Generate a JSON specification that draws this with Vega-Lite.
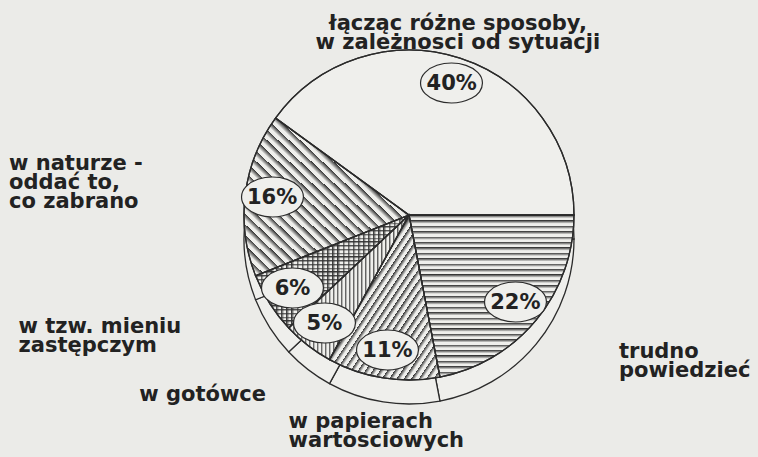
{
  "$schema": "https://vega.github.io/schema/vega-lite/v6.json",
  "autosize": {"type": "none"},
  "width": 698,
  "height": 430,
  "padding": {"left": 60, "top": 0, "right": 0, "bottom": 27},
  "background": "#ebebe8",
  "view": {"stroke": null},
  "data": {"values": [
    {"idx": 1, "value": 22, "pct": "22%", "label": "trudno\npowiedzieć"},
    {"idx": 2, "value": 11, "pct": "11%", "label": "w papierach\nwartosciowych"},
    {"idx": 3, "value": 5, "pct": "5%", "label": "w gotówce"},
    {"idx": 4, "value": 6, "pct": "6%", "label": "w tzw. mieniu\nzastępczym"},
    {"idx": 5, "value": 16, "pct": "16%", "label": "w naturze -\noddać to,\nco zabrano"},
    {"idx": 6, "value": 40, "pct": "40%", "label": "łącząc różne sposoby,\nw zależnosci od sytuacji"}
  ]},
  "encoding": {
    "theta": {"field": "value", "type": "quantitative", "stack": true, "scale": {"range": [1.5708, 7.854]}},
    "order": {"field": "idx", "type": "quantitative"}
  },
  "layer": [
    {"mark": {"type": "arc", "outerRadius": 165, "yOffset": 24, "fill": "#efefec", "stroke": "#2b2b2b", "strokeWidth": 1.3}},
    {"mark": {"type": "arc", "outerRadius": 165, "fill": "#efefec", "stroke": "#2b2b2b", "strokeWidth": 1.3}},
    {"mark": {"type": "arc", "outerRadius": 165, "fill": {"gradient": "linear", "x1": 0, "y1": 0, "x2": 0, "y2": 1, "stops": [{"offset":0,"color":"#333"},{"offset":0.02,"color":"rgba(51,51,51,0)"},{"offset":0.0333,"color":"rgba(51,51,51,0)"},{"offset":0.0333,"color":"#333"},{"offset":0.0533,"color":"rgba(51,51,51,0)"},{"offset":0.0667,"color":"rgba(51,51,51,0)"},{"offset":0.0667,"color":"#333"},{"offset":0.0867,"color":"rgba(51,51,51,0)"},{"offset":0.1,"color":"rgba(51,51,51,0)"},{"offset":0.1,"color":"#333"},{"offset":0.12,"color":"rgba(51,51,51,0)"},{"offset":0.1333,"color":"rgba(51,51,51,0)"},{"offset":0.1333,"color":"#333"},{"offset":0.1533,"color":"rgba(51,51,51,0)"},{"offset":0.1667,"color":"rgba(51,51,51,0)"},{"offset":0.1667,"color":"#333"},{"offset":0.1867,"color":"rgba(51,51,51,0)"},{"offset":0.2,"color":"rgba(51,51,51,0)"},{"offset":0.2,"color":"#333"},{"offset":0.22,"color":"rgba(51,51,51,0)"},{"offset":0.2333,"color":"rgba(51,51,51,0)"},{"offset":0.2333,"color":"#333"},{"offset":0.2533,"color":"rgba(51,51,51,0)"},{"offset":0.2667,"color":"rgba(51,51,51,0)"},{"offset":0.2667,"color":"#333"},{"offset":0.2867,"color":"rgba(51,51,51,0)"},{"offset":0.3,"color":"rgba(51,51,51,0)"},{"offset":0.3,"color":"#333"},{"offset":0.32,"color":"rgba(51,51,51,0)"},{"offset":0.3333,"color":"rgba(51,51,51,0)"},{"offset":0.3333,"color":"#333"},{"offset":0.3533,"color":"rgba(51,51,51,0)"},{"offset":0.3667,"color":"rgba(51,51,51,0)"},{"offset":0.3667,"color":"#333"},{"offset":0.3867,"color":"rgba(51,51,51,0)"},{"offset":0.4,"color":"rgba(51,51,51,0)"},{"offset":0.4,"color":"#333"},{"offset":0.42,"color":"rgba(51,51,51,0)"},{"offset":0.4333,"color":"rgba(51,51,51,0)"},{"offset":0.4333,"color":"#333"},{"offset":0.4533,"color":"rgba(51,51,51,0)"},{"offset":0.4667,"color":"rgba(51,51,51,0)"},{"offset":0.4667,"color":"#333"},{"offset":0.4867,"color":"rgba(51,51,51,0)"},{"offset":0.5,"color":"rgba(51,51,51,0)"},{"offset":0.5,"color":"#333"},{"offset":0.52,"color":"rgba(51,51,51,0)"},{"offset":0.5333,"color":"rgba(51,51,51,0)"},{"offset":0.5333,"color":"#333"},{"offset":0.5533,"color":"rgba(51,51,51,0)"},{"offset":0.5667,"color":"rgba(51,51,51,0)"},{"offset":0.5667,"color":"#333"},{"offset":0.5867,"color":"rgba(51,51,51,0)"},{"offset":0.6,"color":"rgba(51,51,51,0)"},{"offset":0.6,"color":"#333"},{"offset":0.62,"color":"rgba(51,51,51,0)"},{"offset":0.6333,"color":"rgba(51,51,51,0)"},{"offset":0.6333,"color":"#333"},{"offset":0.6533,"color":"rgba(51,51,51,0)"},{"offset":0.6667,"color":"rgba(51,51,51,0)"},{"offset":0.6667,"color":"#333"},{"offset":0.6867,"color":"rgba(51,51,51,0)"},{"offset":0.7,"color":"rgba(51,51,51,0)"},{"offset":0.7,"color":"#333"},{"offset":0.72,"color":"rgba(51,51,51,0)"},{"offset":0.7333,"color":"rgba(51,51,51,0)"},{"offset":0.7333,"color":"#333"},{"offset":0.7533,"color":"rgba(51,51,51,0)"},{"offset":0.7667,"color":"rgba(51,51,51,0)"},{"offset":0.7667,"color":"#333"},{"offset":0.7867,"color":"rgba(51,51,51,0)"},{"offset":0.8,"color":"rgba(51,51,51,0)"},{"offset":0.8,"color":"#333"},{"offset":0.82,"color":"rgba(51,51,51,0)"},{"offset":0.8333,"color":"rgba(51,51,51,0)"},{"offset":0.8333,"color":"#333"},{"offset":0.8533,"color":"rgba(51,51,51,0)"},{"offset":0.8667,"color":"rgba(51,51,51,0)"},{"offset":0.8667,"color":"#333"},{"offset":0.8867,"color":"rgba(51,51,51,0)"},{"offset":0.9,"color":"rgba(51,51,51,0)"},{"offset":0.9,"color":"#333"},{"offset":0.92,"color":"rgba(51,51,51,0)"},{"offset":0.9333,"color":"rgba(51,51,51,0)"},{"offset":0.9333,"color":"#333"},{"offset":0.9533,"color":"rgba(51,51,51,0)"},{"offset":0.9667,"color":"rgba(51,51,51,0)"},{"offset":0.9667,"color":"#333"},{"offset":0.9867,"color":"rgba(51,51,51,0)"},{"offset":1,"color":"rgba(51,51,51,0)"}]}},
     "encoding": {"opacity": {"condition": {"test": "datum.idx == 1 || datum.idx == 4", "value": 1}, "value": 0}}},
    {"mark": {"type": "arc", "outerRadius": 165, "fill": {"gradient": "linear", "x1": 0, "y1": 0, "x2": 1, "y2": 0, "stops": [{"offset":0,"color":"#333"},{"offset":0.02,"color":"rgba(51,51,51,0)"},{"offset":0.0333,"color":"rgba(51,51,51,0)"},{"offset":0.0333,"color":"#333"},{"offset":0.0533,"color":"rgba(51,51,51,0)"},{"offset":0.0667,"color":"rgba(51,51,51,0)"},{"offset":0.0667,"color":"#333"},{"offset":0.0867,"color":"rgba(51,51,51,0)"},{"offset":0.1,"color":"rgba(51,51,51,0)"},{"offset":0.1,"color":"#333"},{"offset":0.12,"color":"rgba(51,51,51,0)"},{"offset":0.1333,"color":"rgba(51,51,51,0)"},{"offset":0.1333,"color":"#333"},{"offset":0.1533,"color":"rgba(51,51,51,0)"},{"offset":0.1667,"color":"rgba(51,51,51,0)"},{"offset":0.1667,"color":"#333"},{"offset":0.1867,"color":"rgba(51,51,51,0)"},{"offset":0.2,"color":"rgba(51,51,51,0)"},{"offset":0.2,"color":"#333"},{"offset":0.22,"color":"rgba(51,51,51,0)"},{"offset":0.2333,"color":"rgba(51,51,51,0)"},{"offset":0.2333,"color":"#333"},{"offset":0.2533,"color":"rgba(51,51,51,0)"},{"offset":0.2667,"color":"rgba(51,51,51,0)"},{"offset":0.2667,"color":"#333"},{"offset":0.2867,"color":"rgba(51,51,51,0)"},{"offset":0.3,"color":"rgba(51,51,51,0)"},{"offset":0.3,"color":"#333"},{"offset":0.32,"color":"rgba(51,51,51,0)"},{"offset":0.3333,"color":"rgba(51,51,51,0)"},{"offset":0.3333,"color":"#333"},{"offset":0.3533,"color":"rgba(51,51,51,0)"},{"offset":0.3667,"color":"rgba(51,51,51,0)"},{"offset":0.3667,"color":"#333"},{"offset":0.3867,"color":"rgba(51,51,51,0)"},{"offset":0.4,"color":"rgba(51,51,51,0)"},{"offset":0.4,"color":"#333"},{"offset":0.42,"color":"rgba(51,51,51,0)"},{"offset":0.4333,"color":"rgba(51,51,51,0)"},{"offset":0.4333,"color":"#333"},{"offset":0.4533,"color":"rgba(51,51,51,0)"},{"offset":0.4667,"color":"rgba(51,51,51,0)"},{"offset":0.4667,"color":"#333"},{"offset":0.4867,"color":"rgba(51,51,51,0)"},{"offset":0.5,"color":"rgba(51,51,51,0)"},{"offset":0.5,"color":"#333"},{"offset":0.52,"color":"rgba(51,51,51,0)"},{"offset":0.5333,"color":"rgba(51,51,51,0)"},{"offset":0.5333,"color":"#333"},{"offset":0.5533,"color":"rgba(51,51,51,0)"},{"offset":0.5667,"color":"rgba(51,51,51,0)"},{"offset":0.5667,"color":"#333"},{"offset":0.5867,"color":"rgba(51,51,51,0)"},{"offset":0.6,"color":"rgba(51,51,51,0)"},{"offset":0.6,"color":"#333"},{"offset":0.62,"color":"rgba(51,51,51,0)"},{"offset":0.6333,"color":"rgba(51,51,51,0)"},{"offset":0.6333,"color":"#333"},{"offset":0.6533,"color":"rgba(51,51,51,0)"},{"offset":0.6667,"color":"rgba(51,51,51,0)"},{"offset":0.6667,"color":"#333"},{"offset":0.6867,"color":"rgba(51,51,51,0)"},{"offset":0.7,"color":"rgba(51,51,51,0)"},{"offset":0.7,"color":"#333"},{"offset":0.72,"color":"rgba(51,51,51,0)"},{"offset":0.7333,"color":"rgba(51,51,51,0)"},{"offset":0.7333,"color":"#333"},{"offset":0.7533,"color":"rgba(51,51,51,0)"},{"offset":0.7667,"color":"rgba(51,51,51,0)"},{"offset":0.7667,"color":"#333"},{"offset":0.7867,"color":"rgba(51,51,51,0)"},{"offset":0.8,"color":"rgba(51,51,51,0)"},{"offset":0.8,"color":"#333"},{"offset":0.82,"color":"rgba(51,51,51,0)"},{"offset":0.8333,"color":"rgba(51,51,51,0)"},{"offset":0.8333,"color":"#333"},{"offset":0.8533,"color":"rgba(51,51,51,0)"},{"offset":0.8667,"color":"rgba(51,51,51,0)"},{"offset":0.8667,"color":"#333"},{"offset":0.8867,"color":"rgba(51,51,51,0)"},{"offset":0.9,"color":"rgba(51,51,51,0)"},{"offset":0.9,"color":"#333"},{"offset":0.92,"color":"rgba(51,51,51,0)"},{"offset":0.9333,"color":"rgba(51,51,51,0)"},{"offset":0.9333,"color":"#333"},{"offset":0.9533,"color":"rgba(51,51,51,0)"},{"offset":0.9667,"color":"rgba(51,51,51,0)"},{"offset":0.9667,"color":"#333"},{"offset":0.9867,"color":"rgba(51,51,51,0)"},{"offset":1,"color":"rgba(51,51,51,0)"}]}},
     "encoding": {"opacity": {"condition": {"test": "datum.idx == 3 || datum.idx == 4", "value": 1}, "value": 0}}},
    {"mark": {"type": "arc", "outerRadius": 165, "fill": {"gradient": "linear", "x1": 0, "y1": 0, "x2": 1, "y2": 1, "stops": [{"offset":0,"color":"#333"},{"offset":0.02,"color":"rgba(51,51,51,0)"},{"offset":0.0333,"color":"rgba(51,51,51,0)"},{"offset":0.0333,"color":"#333"},{"offset":0.0533,"color":"rgba(51,51,51,0)"},{"offset":0.0667,"color":"rgba(51,51,51,0)"},{"offset":0.0667,"color":"#333"},{"offset":0.0867,"color":"rgba(51,51,51,0)"},{"offset":0.1,"color":"rgba(51,51,51,0)"},{"offset":0.1,"color":"#333"},{"offset":0.12,"color":"rgba(51,51,51,0)"},{"offset":0.1333,"color":"rgba(51,51,51,0)"},{"offset":0.1333,"color":"#333"},{"offset":0.1533,"color":"rgba(51,51,51,0)"},{"offset":0.1667,"color":"rgba(51,51,51,0)"},{"offset":0.1667,"color":"#333"},{"offset":0.1867,"color":"rgba(51,51,51,0)"},{"offset":0.2,"color":"rgba(51,51,51,0)"},{"offset":0.2,"color":"#333"},{"offset":0.22,"color":"rgba(51,51,51,0)"},{"offset":0.2333,"color":"rgba(51,51,51,0)"},{"offset":0.2333,"color":"#333"},{"offset":0.2533,"color":"rgba(51,51,51,0)"},{"offset":0.2667,"color":"rgba(51,51,51,0)"},{"offset":0.2667,"color":"#333"},{"offset":0.2867,"color":"rgba(51,51,51,0)"},{"offset":0.3,"color":"rgba(51,51,51,0)"},{"offset":0.3,"color":"#333"},{"offset":0.32,"color":"rgba(51,51,51,0)"},{"offset":0.3333,"color":"rgba(51,51,51,0)"},{"offset":0.3333,"color":"#333"},{"offset":0.3533,"color":"rgba(51,51,51,0)"},{"offset":0.3667,"color":"rgba(51,51,51,0)"},{"offset":0.3667,"color":"#333"},{"offset":0.3867,"color":"rgba(51,51,51,0)"},{"offset":0.4,"color":"rgba(51,51,51,0)"},{"offset":0.4,"color":"#333"},{"offset":0.42,"color":"rgba(51,51,51,0)"},{"offset":0.4333,"color":"rgba(51,51,51,0)"},{"offset":0.4333,"color":"#333"},{"offset":0.4533,"color":"rgba(51,51,51,0)"},{"offset":0.4667,"color":"rgba(51,51,51,0)"},{"offset":0.4667,"color":"#333"},{"offset":0.4867,"color":"rgba(51,51,51,0)"},{"offset":0.5,"color":"rgba(51,51,51,0)"},{"offset":0.5,"color":"#333"},{"offset":0.52,"color":"rgba(51,51,51,0)"},{"offset":0.5333,"color":"rgba(51,51,51,0)"},{"offset":0.5333,"color":"#333"},{"offset":0.5533,"color":"rgba(51,51,51,0)"},{"offset":0.5667,"color":"rgba(51,51,51,0)"},{"offset":0.5667,"color":"#333"},{"offset":0.5867,"color":"rgba(51,51,51,0)"},{"offset":0.6,"color":"rgba(51,51,51,0)"},{"offset":0.6,"color":"#333"},{"offset":0.62,"color":"rgba(51,51,51,0)"},{"offset":0.6333,"color":"rgba(51,51,51,0)"},{"offset":0.6333,"color":"#333"},{"offset":0.6533,"color":"rgba(51,51,51,0)"},{"offset":0.6667,"color":"rgba(51,51,51,0)"},{"offset":0.6667,"color":"#333"},{"offset":0.6867,"color":"rgba(51,51,51,0)"},{"offset":0.7,"color":"rgba(51,51,51,0)"},{"offset":0.7,"color":"#333"},{"offset":0.72,"color":"rgba(51,51,51,0)"},{"offset":0.7333,"color":"rgba(51,51,51,0)"},{"offset":0.7333,"color":"#333"},{"offset":0.7533,"color":"rgba(51,51,51,0)"},{"offset":0.7667,"color":"rgba(51,51,51,0)"},{"offset":0.7667,"color":"#333"},{"offset":0.7867,"color":"rgba(51,51,51,0)"},{"offset":0.8,"color":"rgba(51,51,51,0)"},{"offset":0.8,"color":"#333"},{"offset":0.82,"color":"rgba(51,51,51,0)"},{"offset":0.8333,"color":"rgba(51,51,51,0)"},{"offset":0.8333,"color":"#333"},{"offset":0.8533,"color":"rgba(51,51,51,0)"},{"offset":0.8667,"color":"rgba(51,51,51,0)"},{"offset":0.8667,"color":"#333"},{"offset":0.8867,"color":"rgba(51,51,51,0)"},{"offset":0.9,"color":"rgba(51,51,51,0)"},{"offset":0.9,"color":"#333"},{"offset":0.92,"color":"rgba(51,51,51,0)"},{"offset":0.9333,"color":"rgba(51,51,51,0)"},{"offset":0.9333,"color":"#333"},{"offset":0.9533,"color":"rgba(51,51,51,0)"},{"offset":0.9667,"color":"rgba(51,51,51,0)"},{"offset":0.9667,"color":"#333"},{"offset":0.9867,"color":"rgba(51,51,51,0)"},{"offset":1,"color":"rgba(51,51,51,0)"}]}},
     "encoding": {"opacity": {"condition": {"test": "datum.idx == 2", "value": 1}, "value": 0}}},
    {"mark": {"type": "arc", "outerRadius": 165, "fill": {"gradient": "linear", "x1": 1, "y1": 0, "x2": 0, "y2": 1, "stops": [{"offset":0,"color":"#333"},{"offset":0.02,"color":"rgba(51,51,51,0)"},{"offset":0.0333,"color":"rgba(51,51,51,0)"},{"offset":0.0333,"color":"#333"},{"offset":0.0533,"color":"rgba(51,51,51,0)"},{"offset":0.0667,"color":"rgba(51,51,51,0)"},{"offset":0.0667,"color":"#333"},{"offset":0.0867,"color":"rgba(51,51,51,0)"},{"offset":0.1,"color":"rgba(51,51,51,0)"},{"offset":0.1,"color":"#333"},{"offset":0.12,"color":"rgba(51,51,51,0)"},{"offset":0.1333,"color":"rgba(51,51,51,0)"},{"offset":0.1333,"color":"#333"},{"offset":0.1533,"color":"rgba(51,51,51,0)"},{"offset":0.1667,"color":"rgba(51,51,51,0)"},{"offset":0.1667,"color":"#333"},{"offset":0.1867,"color":"rgba(51,51,51,0)"},{"offset":0.2,"color":"rgba(51,51,51,0)"},{"offset":0.2,"color":"#333"},{"offset":0.22,"color":"rgba(51,51,51,0)"},{"offset":0.2333,"color":"rgba(51,51,51,0)"},{"offset":0.2333,"color":"#333"},{"offset":0.2533,"color":"rgba(51,51,51,0)"},{"offset":0.2667,"color":"rgba(51,51,51,0)"},{"offset":0.2667,"color":"#333"},{"offset":0.2867,"color":"rgba(51,51,51,0)"},{"offset":0.3,"color":"rgba(51,51,51,0)"},{"offset":0.3,"color":"#333"},{"offset":0.32,"color":"rgba(51,51,51,0)"},{"offset":0.3333,"color":"rgba(51,51,51,0)"},{"offset":0.3333,"color":"#333"},{"offset":0.3533,"color":"rgba(51,51,51,0)"},{"offset":0.3667,"color":"rgba(51,51,51,0)"},{"offset":0.3667,"color":"#333"},{"offset":0.3867,"color":"rgba(51,51,51,0)"},{"offset":0.4,"color":"rgba(51,51,51,0)"},{"offset":0.4,"color":"#333"},{"offset":0.42,"color":"rgba(51,51,51,0)"},{"offset":0.4333,"color":"rgba(51,51,51,0)"},{"offset":0.4333,"color":"#333"},{"offset":0.4533,"color":"rgba(51,51,51,0)"},{"offset":0.4667,"color":"rgba(51,51,51,0)"},{"offset":0.4667,"color":"#333"},{"offset":0.4867,"color":"rgba(51,51,51,0)"},{"offset":0.5,"color":"rgba(51,51,51,0)"},{"offset":0.5,"color":"#333"},{"offset":0.52,"color":"rgba(51,51,51,0)"},{"offset":0.5333,"color":"rgba(51,51,51,0)"},{"offset":0.5333,"color":"#333"},{"offset":0.5533,"color":"rgba(51,51,51,0)"},{"offset":0.5667,"color":"rgba(51,51,51,0)"},{"offset":0.5667,"color":"#333"},{"offset":0.5867,"color":"rgba(51,51,51,0)"},{"offset":0.6,"color":"rgba(51,51,51,0)"},{"offset":0.6,"color":"#333"},{"offset":0.62,"color":"rgba(51,51,51,0)"},{"offset":0.6333,"color":"rgba(51,51,51,0)"},{"offset":0.6333,"color":"#333"},{"offset":0.6533,"color":"rgba(51,51,51,0)"},{"offset":0.6667,"color":"rgba(51,51,51,0)"},{"offset":0.6667,"color":"#333"},{"offset":0.6867,"color":"rgba(51,51,51,0)"},{"offset":0.7,"color":"rgba(51,51,51,0)"},{"offset":0.7,"color":"#333"},{"offset":0.72,"color":"rgba(51,51,51,0)"},{"offset":0.7333,"color":"rgba(51,51,51,0)"},{"offset":0.7333,"color":"#333"},{"offset":0.7533,"color":"rgba(51,51,51,0)"},{"offset":0.7667,"color":"rgba(51,51,51,0)"},{"offset":0.7667,"color":"#333"},{"offset":0.7867,"color":"rgba(51,51,51,0)"},{"offset":0.8,"color":"rgba(51,51,51,0)"},{"offset":0.8,"color":"#333"},{"offset":0.82,"color":"rgba(51,51,51,0)"},{"offset":0.8333,"color":"rgba(51,51,51,0)"},{"offset":0.8333,"color":"#333"},{"offset":0.8533,"color":"rgba(51,51,51,0)"},{"offset":0.8667,"color":"rgba(51,51,51,0)"},{"offset":0.8667,"color":"#333"},{"offset":0.8867,"color":"rgba(51,51,51,0)"},{"offset":0.9,"color":"rgba(51,51,51,0)"},{"offset":0.9,"color":"#333"},{"offset":0.92,"color":"rgba(51,51,51,0)"},{"offset":0.9333,"color":"rgba(51,51,51,0)"},{"offset":0.9333,"color":"#333"},{"offset":0.9533,"color":"rgba(51,51,51,0)"},{"offset":0.9667,"color":"rgba(51,51,51,0)"},{"offset":0.9667,"color":"#333"},{"offset":0.9867,"color":"rgba(51,51,51,0)"},{"offset":1,"color":"rgba(51,51,51,0)"}]}},
     "encoding": {"opacity": {"condition": {"test": "datum.idx == 5", "value": 1}, "value": 0}}},
    {"mark": {"type": "arc", "outerRadius": 165, "fill": "transparent", "stroke": "#2b2b2b", "strokeWidth": 1.3}},
    {"mark": {"type": "text", "radius": 138, "font": "DejaVu Sans", "fontSize": 76, "color": "#efefec", "stroke": "#2b2b2b", "strokeWidth": 1.2, "baseline": "middle"},
     "encoding": {"text": {"value": "⬬"}}},
    {"mark": {"type": "text", "radius": 138, "font": "DejaVu Sans", "fontWeight": "bold", "fontSize": 21, "color": "#222", "baseline": "middle"},
     "encoding": {"text": {"field": "pct"}}},
    {"mark": {"type": "text", "radius": 231, "dx": 32, "dy": -10, "align": "left", "baseline": "middle", "lineBreak": "\n", "lineHeight": 19, "font": "DejaVu Sans", "fontWeight": "bold", "fontSize": 21, "color": "#222"},
     "encoding": {"text": {"condition": {"test": "datum.idx == 1", "field": "label"}, "value": ""}}},
    {"mark": {"type": "text", "radius": 220, "dx": -86, "dy": -10, "align": "left", "baseline": "middle", "lineBreak": "\n", "lineHeight": 19, "font": "DejaVu Sans", "fontWeight": "bold", "fontSize": 21, "color": "#222"},
     "encoding": {"text": {"condition": {"test": "datum.idx == 2", "field": "label"}, "value": ""}}},
    {"mark": {"type": "text", "radius": 228, "dx": -130, "align": "left", "baseline": "middle", "lineBreak": "\n", "lineHeight": 19, "font": "DejaVu Sans", "fontWeight": "bold", "fontSize": 21, "color": "#222"},
     "encoding": {"text": {"condition": {"test": "datum.idx == 3", "field": "label"}, "value": ""}}},
    {"mark": {"type": "text", "radius": 228, "dx": -198, "dy": -10, "align": "left", "baseline": "middle", "lineBreak": "\n", "lineHeight": 19, "font": "DejaVu Sans", "fontWeight": "bold", "fontSize": 21, "color": "#222"},
     "encoding": {"text": {"condition": {"test": "datum.idx == 4", "field": "label"}, "value": ""}}},
    {"mark": {"type": "text", "radius": 256, "dx": -146, "dy": -19, "align": "left", "baseline": "middle", "lineBreak": "\n", "lineHeight": 19, "font": "DejaVu Sans", "fontWeight": "bold", "fontSize": 21, "color": "#222"},
     "encoding": {"text": {"condition": {"test": "datum.idx == 5", "field": "label"}, "value": ""}}},
    {"mark": {"type": "text", "radius": 197, "dx": -12, "dy": -4, "align": "center", "baseline": "middle", "lineBreak": "\n", "lineHeight": 19, "font": "DejaVu Sans", "fontWeight": "bold", "fontSize": 21, "color": "#222"},
     "encoding": {"text": {"condition": {"test": "datum.idx == 6", "field": "label"}, "value": ""}}}
  ]
}
